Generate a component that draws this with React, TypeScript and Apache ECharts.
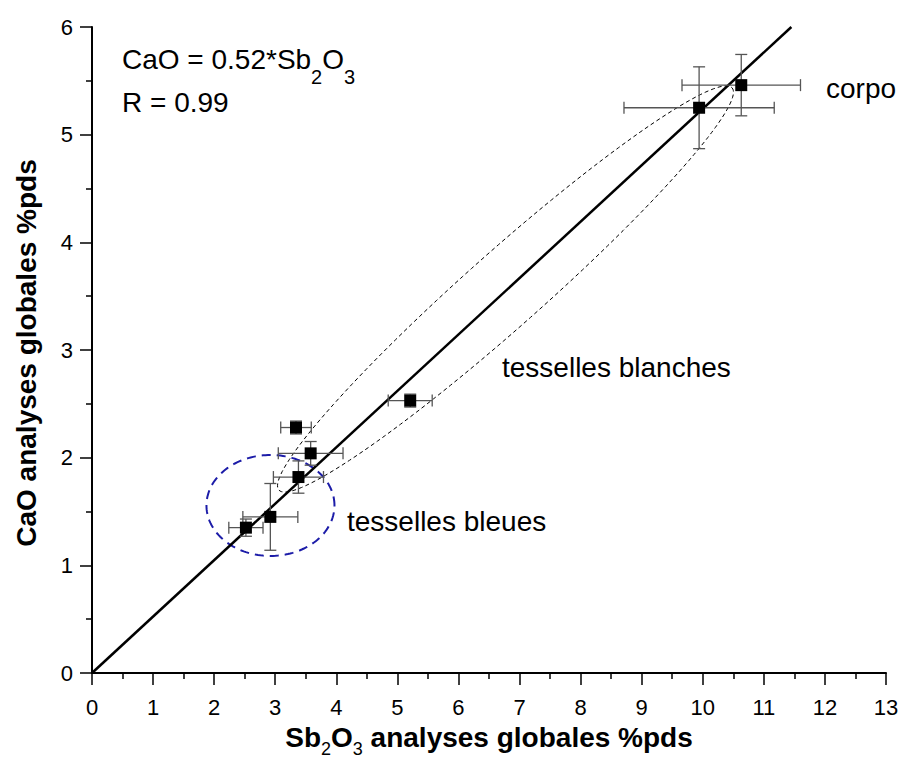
import React, { useEffect, useRef } from "react";
import * as echarts from "echarts";

// ---- data ----
const sbO3 = [2.52, 2.92, 3.38, 3.58, 3.34, 5.21, 9.94, 10.63];
const caO = [1.35, 1.45, 1.82, 2.04, 2.28, 2.53, 5.25, 5.46];
const sbErr = [0.28, 0.45, 0.41, 0.53, 0.25, 0.36, 1.23, 0.97];
const caErr = [0.08, 0.31, 0.15, 0.11, 0.06, 0.06, 0.38, 0.285];
const fitSlope = 0.524;
const xTicks = [0, 13, 1];
const yTicks = [0, 6, 1];
// ellipses: center, end of first semi-axis, end of second semi-axis (data coords)
const ellipseBlanches = [6.77, 3.567, 10.48, 5.435, 7.18, 3.303];
const ellipseBleues = [2.922, 1.556, 3.97, 1.556, 2.922, 2.025];

const FONT = "'Liberation Sans', Arial, sans-serif";

function renderErr(params: any, api: any) {
  const x = api.value(0), y = api.value(1), ex = api.value(2), ey = api.value(3);
  const l = api.coord([x - ex, y]);
  const r = api.coord([x + ex, y]);
  const t = api.coord([x, y + ey]);
  const b = api.coord([x, y - ey]);
  const c = 6;
  const style = { stroke: "#555", lineWidth: 1.3 };
  const ln = (x1: number, y1: number, x2: number, y2: number) => ({
    type: "line",
    shape: { x1, y1, x2, y2 },
    style,
  });
  return {
    type: "group",
    children: [
      ln(l[0], l[1], r[0], r[1]),
      ln(l[0], l[1] - c, l[0], l[1] + c),
      ln(r[0], r[1] - c, r[0], r[1] + c),
      ln(t[0], t[1], b[0], b[1]),
      ln(t[0] - c, t[1], t[0] + c, t[1]),
      ln(b[0] - c, b[1], b[0] + c, b[1]),
    ],
  };
}

function makeEllipseRender(stroke: string, lineWidth: number, dash: number[]) {
  return (params: any, api: any) => {
    const p0 = api.coord([api.value(0), api.value(1)]);
    const p1 = api.coord([api.value(2), api.value(3)]);
    const p2 = api.coord([api.value(4), api.value(5)]);
    const ax = p1[0] - p0[0], ay = p1[1] - p0[1];
    const bx = p2[0] - p0[0], by = p2[1] - p0[1];
    const pts: number[][] = [];
    const n = 160;
    for (let i = 0; i < n; i++) {
      const t = (i / n) * Math.PI * 2;
      const c = Math.cos(t), s = Math.sin(t);
      pts.push([p0[0] + c * ax + s * bx, p0[1] + c * ay + s * by]);
    }
    return {
      type: "polygon",
      shape: { points: pts },
      style: { fill: "none", stroke, lineWidth, lineDash: dash },
    };
  };
}

export default function App() {
  const ref = useRef<HTMLDivElement>(null);
  useEffect(() => {
    if (!ref.current) return;
    const chart = echarts.init(ref.current, null, { renderer: "svg" });
    const points = sbO3.map((x, i) => [x, caO[i]]);
    const errData = sbO3.map((x, i) => [x, caO[i], sbErr[i], caErr[i]]);
    const fitData = [
      [0, 0],
      [yTicks[1] / fitSlope, yTicks[1]],
    ];
    const axisCommon = {
      axisLine: { show: true, onZero: false, lineStyle: { color: "#000", width: 2 } },
      axisTick: { show: true, inside: false, length: 12, lineStyle: { color: "#000", width: 1.5 } },
      minorTick: { show: true, splitNumber: 2, length: 6, lineStyle: { color: "#000", width: 1.5 } },
      splitLine: { show: false },
      minorSplitLine: { show: false },
    };
    chart.setOption({
      animation: false,
      backgroundColor: "#fff",
      grid: {
        left: 92,
        width: 794,
        top: 27,
        height: 646,
        containLabel: false,
        outerBoundsMode: "none",
      },
      xAxis: {
        type: "value",
        min: xTicks[0],
        max: xTicks[1],
        interval: xTicks[2],
        ...axisCommon,
        axisLabel: { color: "#000", fontSize: 22, fontFamily: FONT, margin: 23 },
        name: "{m|Sb}{s|2}{m|O}{s|3}{m| analyses globales %pds}",
        nameLocation: "middle",
        nameGap: 50,
        nameTextStyle: {
          rich: {
            m: {
              fontSize: 28,
              fontWeight: "bold",
              fontFamily: FONT,
              color: "#000",
              lineHeight: 35,
              verticalAlign: "top",
            },
            s: {
              fontSize: 18,
              fontWeight: "normal",
              fontFamily: FONT,
              color: "#000",
              lineHeight: 35,
              verticalAlign: "bottom",
            },
          },
        },
      },
      yAxis: {
        type: "value",
        min: yTicks[0],
        max: yTicks[1],
        interval: yTicks[2],
        ...axisCommon,
        axisLabel: { color: "#000", fontSize: 22, fontFamily: FONT, margin: 19 },
        name: "CaO analyses globales %pds",
        nameLocation: "middle",
        nameGap: 52,
        nameRotate: 90,
        nameTextStyle: {
          fontSize: 28,
          fontWeight: "bold",
          fontFamily: FONT,
          color: "#000",
          padding: [0, 6, 0, 0],
        },
      },
      series: [
        {
          type: "custom",
          name: "blanches",
          renderItem: makeEllipseRender("#000", 1, [4, 3]),
          data: [ellipseBlanches],
          encode: { x: [0, 2, 4], y: [1, 3, 5] },
          silent: true,
          z: 1,
        },
        {
          type: "custom",
          name: "bleues",
          renderItem: makeEllipseRender("#1c1ca8", 2, [9, 6]),
          data: [ellipseBleues],
          encode: { x: [0, 2, 4], y: [1, 3, 5] },
          silent: true,
          z: 1,
        },
        {
          type: "line",
          data: fitData,
          symbol: "none",
          lineStyle: { color: "#000", width: 2.5 },
          clip: true,
          z: 2,
        },
        {
          type: "custom",
          renderItem: renderErr,
          data: errData,
          encode: { x: 0, y: 1 },
          z: 3,
        },
        {
          type: "scatter",
          data: points,
          symbol: "rect",
          symbolSize: 12,
          itemStyle: { color: "#000", opacity: 1 },
          z: 4,
        },
      ],
      graphic: [
        {
          type: "text",
          left: 122,
          top: 45,
          style: {
            text: "{m|CaO = 0.52*Sb}{s|2}{m|O}{s|3}",
            rich: {
              m: { fontSize: 28, fontFamily: FONT, fill: "#000", lineHeight: 42, verticalAlign: "top" },
              s: { fontSize: 20, fontFamily: FONT, fill: "#000", lineHeight: 42, verticalAlign: "bottom" },
            },
          },
        },
        {
          type: "text",
          left: 122,
          top: 88,
          style: { text: "R = 0.99", fontSize: 28, fontFamily: FONT, fill: "#000" },
        },
        {
          type: "text",
          left: 826,
          top: 74,
          style: { text: "corpo", fontSize: 28, fontFamily: FONT, fill: "#000" },
        },
        {
          type: "text",
          left: 502,
          top: 353,
          style: { text: "tesselles blanches", fontSize: 28, fontFamily: FONT, fill: "#000" },
        },
        {
          type: "text",
          left: 347,
          top: 507,
          style: { text: "tesselles bleues", fontSize: 28, fontFamily: FONT, fill: "#000" },
        },
      ],
    });
    return () => chart.dispose();
  }, []);
  return (
    <div
      ref={ref}
      style={{ position: "absolute", left: 0, top: 0, width: 901, height: 758, background: "#fff" }}
    />
  );
}
